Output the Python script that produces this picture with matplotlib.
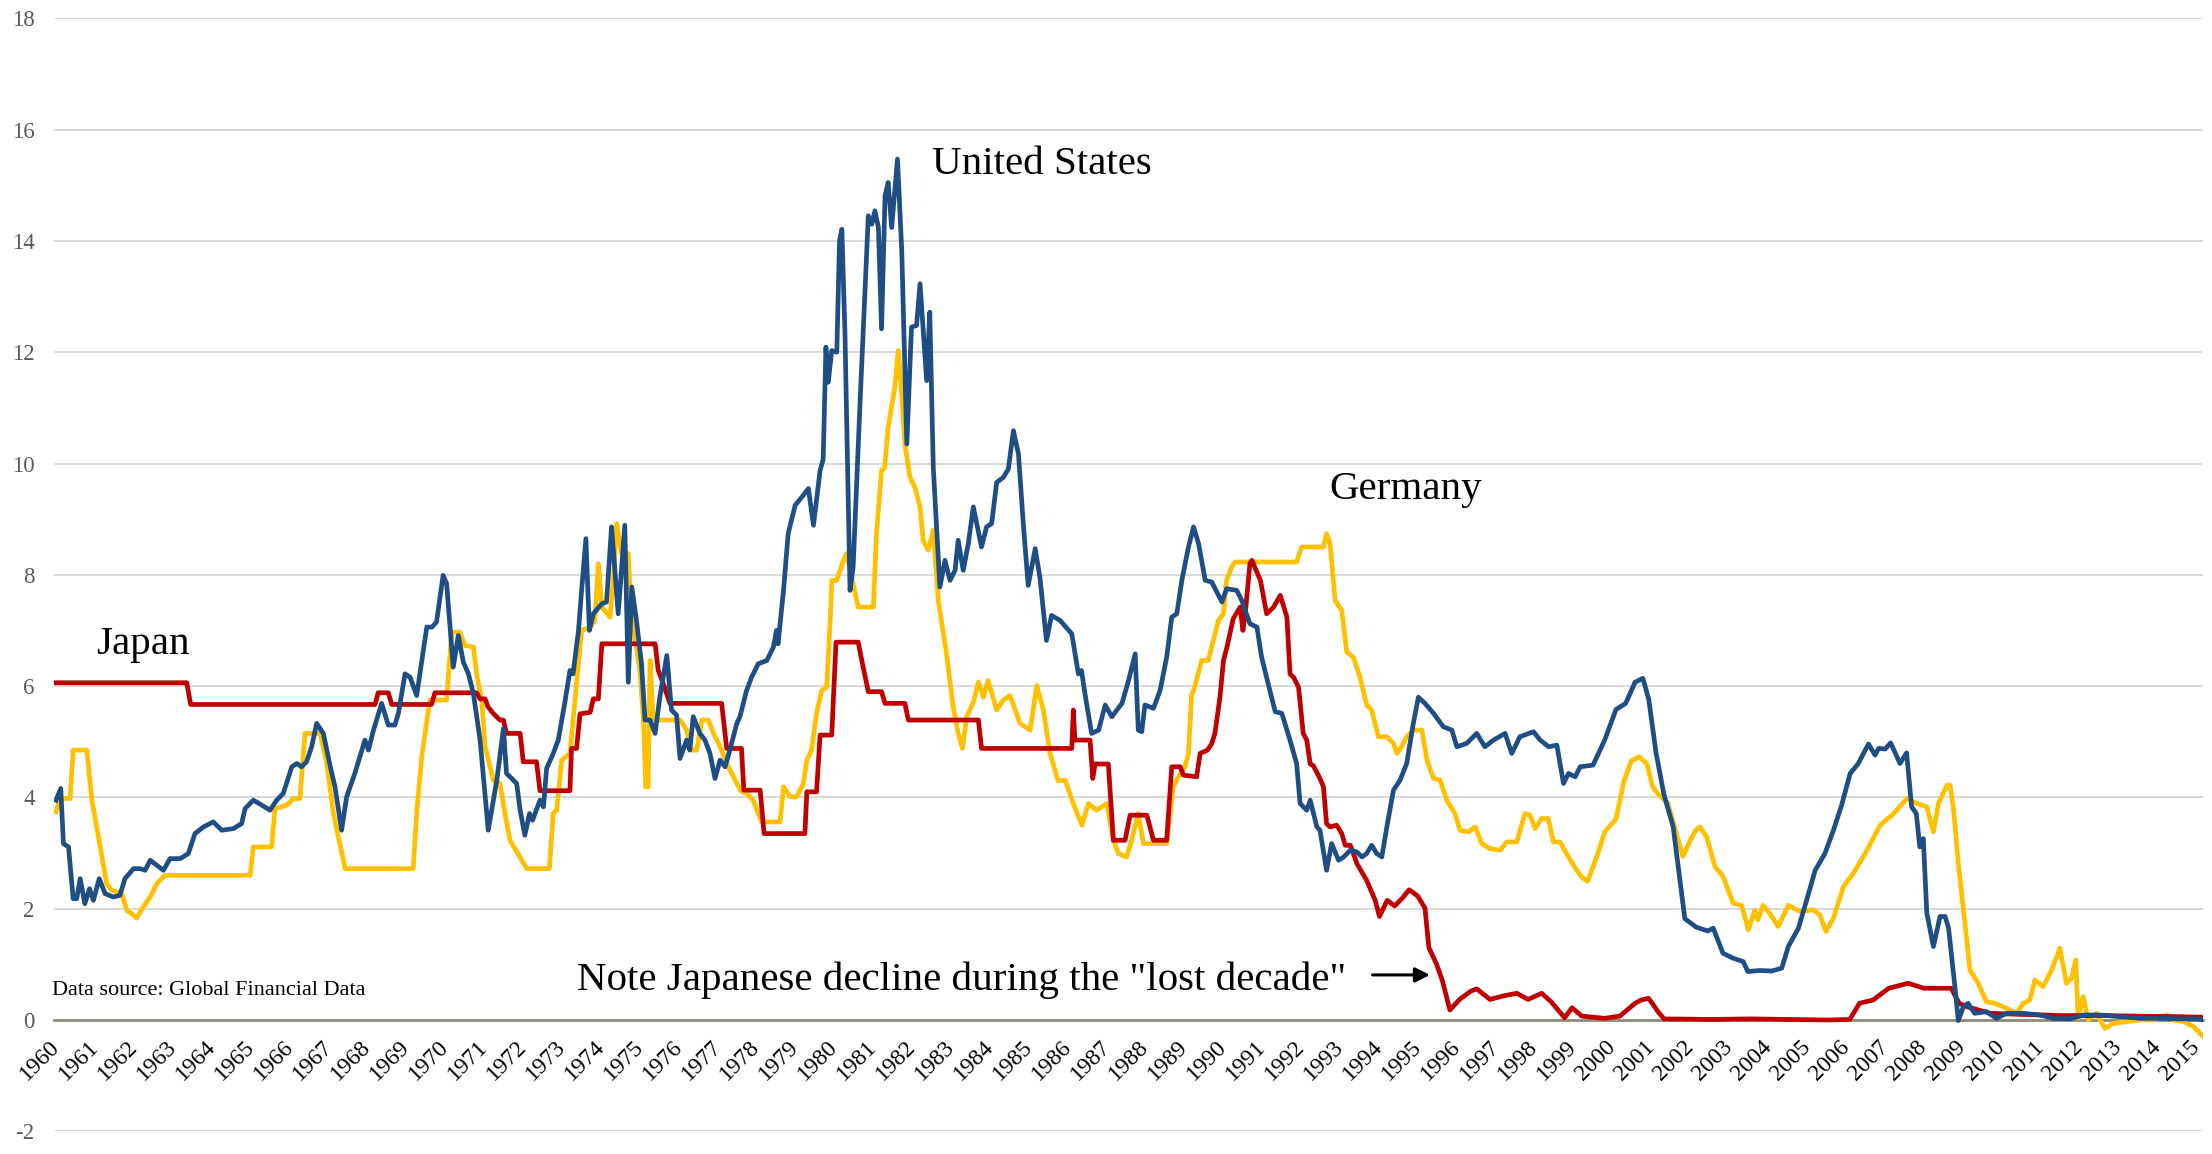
import matplotlib
matplotlib.use("Agg")
import matplotlib.pyplot as plt
import matplotlib.transforms as mtransforms

plt.rcParams['font.family'] = ['Liberation Serif', 'DejaVu Serif']

# ---------------- data (year, value) ----------------
us_years = [1959.95,1960.07,1960.14,1960.27,1960.39,1960.48,1960.57,1960.69,1960.81,1960.91,
 1961.06,1961.21,1961.42,1961.59,1961.72,1961.94,1962.11,1962.24,1962.37,1962.71,1962.88,
 1963.14,1963.35,1963.52,1963.74,1963.99,1964.21,1964.51,1964.72,1964.81,1965.02,1965.24,
 1965.45,1965.62,1965.79,1966.01,1966.14,1966.26,1966.39,1966.52,1966.65,1966.82,1967.00,
 1967.12,1967.29,1967.42,1967.63,1967.89,1967.98,1968.11,1968.32,1968.49,1968.66,1968.75,
 1968.92,1969.05,1969.22,1969.48,1969.61,1969.73,1969.90,1969.99,1970.16,1970.29,1970.42,
 1970.55,1970.68,1970.85,1971.06,1971.28,1971.45,1971.53,1971.62,1971.79,1971.88,1972.00,
 1972.12,1972.20,1972.39,1972.48,1972.56,1972.73,1972.86,1973.03,1973.16,1973.24,1973.38,
 1973.46,1973.57,1973.66,1973.76,1973.87,1973.98,1974.10,1974.23,1974.40,1974.57,1974.66,
 1974.75,1974.87,1975.00,1975.09,1975.22,1975.35,1975.47,1975.65,1975.77,1975.90,1975.99,
 1976.16,1976.24,1976.33,1976.50,1976.63,1976.76,1976.89,1977.02,1977.15,1977.27,1977.45,
 1977.53,1977.70,1977.83,1978.00,1978.22,1978.39,1978.47,1978.51,1978.65,1978.77,1978.95,
 1979.16,1979.29,1979.42,1979.59,1979.67,1979.74,1979.80,1979.89,1980.02,1980.09,1980.15,
 1980.23,1980.36,1980.44,1980.62,1980.83,1980.92,1981.00,1981.09,1981.17,1981.26,1981.34,
 1981.43,1981.58,1981.69,1981.82,1981.94,1982.07,1982.16,1982.33,1982.41,1982.50,1982.67,
 1982.80,1982.93,1983.06,1983.14,1983.27,1983.40,1983.53,1983.74,1983.87,1984.00,1984.13,
 1984.30,1984.43,1984.56,1984.69,1984.82,1984.94,1985.12,1985.24,1985.41,1985.54,1985.76,
 1986.06,1986.23,1986.31,1986.40,1986.57,1986.75,1986.92,1987.09,1987.22,1987.35,1987.52,
 1987.69,1987.77,1987.86,1987.94,1988.16,1988.33,1988.50,1988.63,1988.76,1988.89,1989.06,
 1989.19,1989.32,1989.49,1989.66,1989.92,1990.04,1990.30,1990.43,1990.64,1990.82,1990.94,
 1991.12,1991.29,1991.46,1991.67,1991.84,1991.93,1992.10,1992.19,1992.36,1992.44,1992.61,
 1992.74,1992.92,1993.05,1993.22,1993.39,1993.52,1993.64,1993.77,1993.90,1994.03,1994.16,
 1994.33,1994.50,1994.67,1994.84,1994.97,1995.14,1995.36,1995.61,1995.83,1995.96,1996.21,
 1996.47,1996.68,1996.90,1997.20,1997.37,1997.58,1997.93,1998.10,1998.32,1998.53,1998.70,
 1998.83,1999.00,1999.13,1999.46,1999.76,2000.05,2000.30,2000.54,2000.74,2000.89,2001.08,
 2001.28,2001.52,2001.82,2002.11,2002.41,2002.55,2002.80,2003.06,2003.32,2003.44,2003.75,
 2004.05,2004.31,2004.48,2004.74,2004.95,2005.17,2005.42,2005.64,2005.85,2006.07,2006.28,
 2006.54,2006.71,2006.80,2006.97,2007.11,2007.35,2007.52,2007.65,2007.77,2007.86,2007.95,
 2008.04,2008.21,2008.38,2008.51,2008.60,2008.78,2008.85,2008.98,2009.10,2009.27,2009.57,
 2009.83,2010.09,2010.52,2010.95,2011.30,2011.72,2012.07,2012.50,2013.00,2013.52,2014.04,
 2014.55,2014.98,2015.15]
us_values = [3.95,4.16,3.17,3.11,2.18,2.18,2.54,2.09,2.36,2.15,
 2.54,2.27,2.21,2.24,2.54,2.72,2.72,2.69,2.87,2.69,2.90,
 2.90,2.99,3.35,3.47,3.56,3.41,3.44,3.53,3.80,3.95,3.86,
 3.77,3.95,4.07,4.55,4.61,4.55,4.64,4.91,5.33,5.15,4.55,
 4.19,3.41,4.01,4.43,5.03,4.85,5.21,5.69,5.30,5.30,5.51,
 6.22,6.16,5.83,7.06,7.06,7.15,7.99,7.84,6.34,6.91,6.43,
 6.22,5.86,5.03,3.41,4.31,5.24,4.43,4.37,4.25,3.77,3.32,
 3.71,3.59,3.95,3.83,4.52,4.79,5.03,5.71,6.28,6.22,7.00,
 7.72,8.65,7.00,7.30,7.39,7.48,7.51,8.86,7.30,8.89,6.07,
 7.78,7.18,6.40,5.39,5.39,5.15,5.80,6.55,5.57,5.48,4.70,
 5.03,4.85,5.45,5.15,5.03,4.79,4.34,4.67,4.55,4.85,5.33,
 5.45,5.92,6.16,6.40,6.46,6.70,7.00,6.76,7.72,8.74,9.25,
 9.43,9.55,8.89,9.87,10.08,12.09,11.46,12.03,12.00,14.00,14.21,
 12.33,7.72,8.14,11.13,14.45,14.30,14.54,14.24,12.42,14.81,15.05,
 14.24,15.47,13.82,10.35,12.45,12.48,13.23,11.49,12.72,9.93,7.78,
 8.26,7.90,8.08,8.62,8.08,8.56,9.22,8.50,8.86,8.92,9.66,
 9.75,9.90,10.59,10.17,8.86,7.81,8.47,7.96,6.82,7.27,7.18,
 6.94,6.22,6.28,5.86,5.15,5.21,5.66,5.45,5.57,5.69,6.10,
 6.58,5.21,5.18,5.66,5.60,5.92,6.52,7.24,7.30,7.90,8.50,
 8.86,8.56,7.90,7.87,7.51,7.75,7.72,7.54,7.12,7.06,6.52,
 6.01,5.54,5.51,5.03,4.61,3.89,3.77,3.95,3.47,3.41,2.69,
 3.17,2.87,2.93,3.05,3.02,2.93,2.99,3.14,2.99,2.93,3.47,
 4.13,4.31,4.61,5.33,5.80,5.69,5.51,5.27,5.21,4.91,4.97,
 5.15,4.91,5.03,5.15,4.79,5.09,5.18,5.03,4.91,4.94,4.25,
 4.43,4.37,4.55,4.58,5.03,5.58,5.69,6.07,6.14,5.77,4.80,
 4.06,3.47,1.82,1.67,1.60,1.65,1.20,1.11,1.05,0.87,0.89,
 0.88,0.93,1.32,1.65,2.15,2.69,2.99,3.41,3.86,4.43,4.61,
 4.96,4.76,4.88,4.87,4.98,4.61,4.80,3.83,3.71,3.11,3.26,
 1.92,1.32,1.86,1.86,1.65,0.48,-0.01,0.24,0.30,0.12,0.15,
 0.03,0.12,0.12,0.09,0.03,0.02,0.09,0.09,0.06,0.03,0.03,
 0.02,0.02,0.00]

japan_years = [1959.90,1963.31,1963.41,1968.15,1968.23,1968.49,1968.58,1969.60,1969.69,1970.76,
 1970.85,1970.98,1971.05,1971.20,1971.36,1971.45,1971.53,1971.88,1971.96,1972.30,1972.39,
 1973.16,1973.20,1973.33,1973.42,1973.68,1973.76,1973.89,1973.98,1975.35,1975.43,1975.56,
 1975.73,1977.06,1977.19,1977.57,1977.63,1978.05,1978.15,1979.20,1979.25,1979.50,1979.59,
 1979.89,1980.00,1980.57,1980.68,1980.83,1981.17,1981.26,1981.77,1981.86,1983.66,1983.74,
 1986.06,1986.10,1986.14,1986.53,1986.60,1986.66,1987.00,1987.13,1987.43,1987.56,1987.99,
 1988.16,1988.50,1988.63,1988.85,1988.93,1989.27,1989.36,1989.55,1989.66,1989.74,1989.87,
 1989.96,1990.05,1990.21,1990.39,1990.46,1990.52,1990.64,1990.69,1990.82,1990.91,1991.07,
 1991.25,1991.42,1991.59,1991.67,1991.76,1991.89,1992.01,1992.10,1992.19,1992.27,1992.44,
 1992.53,1992.61,1992.70,1992.87,1993.00,1993.09,1993.22,1993.30,1993.39,1993.64,1993.86,
 1993.97,1994.17,1994.36,1994.56,1994.73,1994.95,1995.14,1995.24,1995.44,1995.59,1995.78,
 1996.03,1996.32,1996.47,1996.81,1997.20,1997.50,1997.79,1998.14,1998.38,1998.73,1998.92,
 1999.17,1999.76,2000.15,2000.54,2000.70,2000.89,2001.14,2001.29,2002.50,2003.50,2004.50,
 2005.50,2006.06,2006.31,2006.66,2007.06,2007.56,2007.97,2008.67,2008.87,2009.07,2009.67,
 2010.50,2011.50,2012.50,2013.50,2014.50,2015.10]
japan_values = [6.06,6.06,5.67,5.67,5.88,5.88,5.67,5.67,5.88,5.88,
 5.77,5.77,5.63,5.50,5.39,5.39,5.15,5.15,4.64,4.64,4.12,
 4.12,4.88,4.88,5.50,5.53,5.77,5.77,6.76,6.76,6.28,6.04,
 5.69,5.69,4.88,4.88,4.13,4.13,3.35,3.35,4.10,4.10,5.12,
 5.12,6.79,6.79,6.40,5.90,5.90,5.69,5.69,5.39,5.39,4.88,
 4.88,5.57,5.03,5.03,4.34,4.60,4.60,3.23,3.23,3.68,3.68,
 3.23,3.23,4.55,4.55,4.40,4.37,4.79,4.85,4.97,5.15,5.80,
 6.46,6.70,7.21,7.42,7.00,7.30,8.20,8.26,8.05,7.90,7.30,
 7.42,7.63,7.24,6.22,6.16,5.98,5.15,5.03,4.60,4.57,4.34,
 4.19,3.53,3.47,3.50,3.35,3.14,3.14,2.99,2.81,2.51,2.15,
 1.86,2.15,2.05,2.19,2.34,2.23,2.01,1.30,1.00,0.70,0.18,
 0.37,0.52,0.56,0.37,0.44,0.48,0.37,0.48,0.33,0.04,0.22,
 0.07,0.03,0.07,0.30,0.36,0.39,0.14,0.02,0.01,0.02,0.01,
 0.00,0.01,0.30,0.36,0.57,0.66,0.57,0.57,0.30,0.24,0.12,
 0.10,0.08,0.08,0.07,0.06,0.05]

germany_years = [1959.95,1960.05,1960.31,1960.39,1960.74,1960.87,1961.04,1961.25,1961.38,1961.64,
 1961.77,1961.89,1962.02,1962.19,1962.37,1962.54,1962.75,1964.94,1965.02,1965.49,1965.58,
 1965.88,1966.05,1966.22,1966.35,1966.74,1966.91,1967.08,1967.38,1969.13,1969.22,1969.35,
 1969.56,1969.99,1970.12,1970.33,1970.46,1970.68,1970.76,1970.89,1970.98,1971.19,1971.36,
 1971.49,1971.62,1972.05,1972.63,1972.73,1972.82,1972.95,1973.16,1973.33,1973.46,1973.68,
 1973.80,1973.89,1973.98,1974.19,1974.28,1974.36,1974.49,1974.66,1974.70,1974.83,1974.96,
 1975.05,1975.11,1975.17,1975.22,1975.30,1975.99,1976.16,1976.29,1976.42,1976.55,1976.72,
 1976.85,1977.02,1977.19,1977.32,1977.45,1977.57,1977.70,1977.87,1978.00,1978.09,1978.56,
 1978.65,1978.82,1978.99,1979.16,1979.25,1979.37,1979.50,1979.63,1979.76,1979.85,1979.89,
 1980.02,1980.19,1980.27,1980.57,1980.96,1981.04,1981.17,1981.25,1981.34,1981.47,1981.51,
 1981.60,1981.69,1981.77,1981.90,1982.03,1982.16,1982.24,1982.37,1982.50,1982.63,1982.84,
 1983.01,1983.14,1983.25,1983.36,1983.53,1983.66,1983.79,1983.91,1984.13,1984.30,1984.47,
 1984.73,1984.99,1985.16,1985.33,1985.50,1985.71,1985.89,1986.10,1986.32,1986.49,1986.70,
 1986.96,1987.13,1987.26,1987.47,1987.60,1987.77,1987.90,1988.50,1988.67,1988.80,1988.97,
 1989.06,1989.14,1989.23,1989.40,1989.57,1989.70,1989.83,1989.96,1990.04,1990.17,1990.26,
 1991.84,1991.97,1992.53,1992.61,1992.70,1992.83,1993.00,1993.13,1993.30,1993.47,1993.64,
 1993.77,1993.94,1994.16,1994.33,1994.42,1994.54,1994.67,1994.84,1995.06,1995.19,1995.36,
 1995.53,1995.70,1995.91,1996.04,1996.26,1996.43,1996.60,1996.81,1997.07,1997.24,1997.50,
 1997.71,1997.84,1997.97,1998.14,1998.31,1998.44,1998.61,1998.78,1999.04,1999.17,1999.32,
 1999.56,1999.76,2000.05,2000.25,2000.44,2000.64,2000.84,2000.99,2001.13,2001.38,2001.62,
 2001.77,2001.97,2002.11,2002.21,2002.38,2002.60,2002.81,2003.06,2003.28,2003.45,2003.62,
 2003.70,2003.83,2004.00,2004.22,2004.48,2004.78,2005.12,2005.29,2005.45,2005.64,2005.90,
 2006.15,2006.50,2006.84,2007.19,2007.53,2007.79,2008.04,2008.21,2008.34,2008.56,2008.64,
 2008.73,2008.85,2009.02,2009.15,2009.36,2009.57,2009.79,2010.09,2010.35,2010.52,2010.69,
 2010.82,2011.03,2011.25,2011.46,2011.63,2011.76,2011.87,2011.93,2012.06,2012.19,2012.40,
 2012.62,2012.84,2013.18,2013.52,2013.86,2014.21,2014.38,2014.64,2014.90,2015.15]
germany_values = [3.74,3.98,3.98,4.85,4.85,3.95,3.29,2.45,2.33,2.27,
 1.97,1.91,1.83,2.03,2.21,2.45,2.60,2.60,3.11,3.11,3.80,
 3.86,3.98,3.98,5.15,5.15,4.61,3.71,2.72,2.72,3.71,4.73,
 5.75,5.75,6.97,6.97,6.73,6.70,6.22,5.75,4.91,4.31,4.25,
 3.71,3.23,2.72,2.72,3.71,3.77,4.67,4.79,6.04,7.00,7.06,
 7.18,8.20,7.42,7.24,7.96,8.92,8.38,8.38,7.78,6.88,6.28,
 5.39,4.19,4.19,6.46,5.39,5.39,5.21,4.85,4.85,5.39,5.39,
 5.15,4.91,4.61,4.43,4.25,4.10,4.07,3.95,3.71,3.56,3.56,
 4.19,4.01,4.01,4.25,4.67,4.85,5.51,5.92,5.98,7.18,7.90,
 7.90,8.26,8.38,7.42,7.42,8.74,9.87,9.93,10.65,11.19,11.37,
 12.03,11.25,10.35,9.75,9.57,9.22,8.62,8.44,8.80,7.54,6.58,
 5.63,5.15,4.88,5.45,5.71,6.07,5.80,6.10,5.57,5.75,5.83,
 5.33,5.21,6.01,5.57,4.79,4.30,4.31,3.89,3.50,3.89,3.77,
 3.89,3.23,2.99,2.93,3.23,3.71,3.17,3.17,4.19,4.37,4.55,
 4.79,5.83,6.01,6.46,6.46,6.82,7.18,7.30,7.90,8.14,8.23,
 8.23,8.50,8.50,8.74,8.56,7.54,7.36,6.61,6.52,6.16,5.66,
 5.57,5.09,5.09,4.97,4.79,4.91,5.09,5.21,5.21,4.67,4.34,
 4.31,3.95,3.71,3.41,3.38,3.47,3.17,3.08,3.05,3.20,3.20,
 3.71,3.68,3.44,3.62,3.62,3.20,3.20,2.99,2.69,2.57,2.49,
 2.94,3.38,3.61,4.28,4.65,4.73,4.61,4.20,4.06,3.90,3.31,
 2.94,3.24,3.42,3.47,3.29,2.75,2.57,2.10,2.06,1.62,1.97,
 1.80,2.06,1.92,1.68,2.06,1.95,1.98,1.89,1.59,1.83,2.40,
 2.63,3.05,3.50,3.71,3.98,3.89,3.83,3.38,3.89,4.22,4.22,
 3.77,2.81,1.74,0.90,0.66,0.33,0.30,0.21,0.12,0.30,0.36,
 0.72,0.60,0.90,1.29,0.66,0.75,1.08,0.03,0.42,0.00,0.12,
 -0.15,-0.06,-0.03,0.00,0.00,0.09,0.00,-0.03,-0.12,-0.30]

year_ticks = list(range(1960, 2016))
value_ticks = list(range(-2, 19, 2))

# ---------------- figure ----------------
W, H = 2212, 1154
fig = plt.figure(figsize=(W / 100, H / 100), dpi=100)
fig.patch.set_facecolor('white')
ax = fig.add_axes([54 / W, (H - 1131.3) / H, 2149 / W, (1131.3 - 18.3) / H])
ax.set_xlim(1959.897, 2015.14)
ax.set_ylim(-2, 18)

ax.plot(germany_years, germany_values, color='#FFC000', lw=3.4, zorder=3, solid_joinstyle='round')
ax.plot(japan_years, japan_values, color='#C00000', lw=3.4, zorder=4, solid_joinstyle='round')
ax.plot(us_years, us_values, color='#1F4E85', lw=3.4, zorder=5, solid_joinstyle='round')

# grid & spines
ax.set_yticks(value_ticks)
ax.yaxis.grid(True, color='#D9D9D9', lw=1.4)
ax.set_axisbelow(True)
for s in ['top', 'right', 'left']:
    ax.spines[s].set_visible(False)
ax.spines['bottom'].set_position(('data', 0))
ax.spines['bottom'].set_color('#8C8C78')
ax.spines['bottom'].set_linewidth(2.0)
ax.spines['bottom'].set_zorder(2)

ax.set_xticks(year_ticks)
ax.set_xticklabels([str(y) for y in year_ticks], rotation=45, ha='right', va='top',
                   fontsize=17, color='black')
ax.tick_params(axis='x', length=0, pad=12)
offset = mtransforms.ScaledTranslation(6 / 100, 0, fig.dpi_scale_trans)
for lab in ax.get_xticklabels():
    lab.set_transform(lab.get_transform() + offset)
ax.tick_params(axis='y', length=0, pad=14, labelsize=16.5, labelcolor='#595959')
ax.set_yticklabels([str(v) for v in value_ticks])

# annotations
ax.text(1982.46, 15.2, 'United States', fontsize=29.5, ha='left', va='baseline', zorder=6)
ax.text(1992.67, 9.37, 'Germany', fontsize=29.5, ha='left', va='baseline', zorder=6)
ax.text(1960.99, 6.58, 'Japan', fontsize=29.5, ha='left', va='baseline', zorder=6)
ax.text(1973.33, 0.54, 'Note Japanese decline during the "lost decade"', fontsize=29.5,
        ha='left', va='baseline', zorder=6)
ax.text(1959.84, 0.45, 'Data source: Global Financial Data', fontsize=16,
        ha='left', va='baseline', zorder=6)
ax.annotate('', xy=(1995.34, 0.81), xytext=(1993.72, 0.81),
            arrowprops=dict(arrowstyle='-|>', color='black', lw=2.2, mutation_scale=22),
            zorder=6)

fig.savefig('out.png', dpi=100, facecolor='white')
